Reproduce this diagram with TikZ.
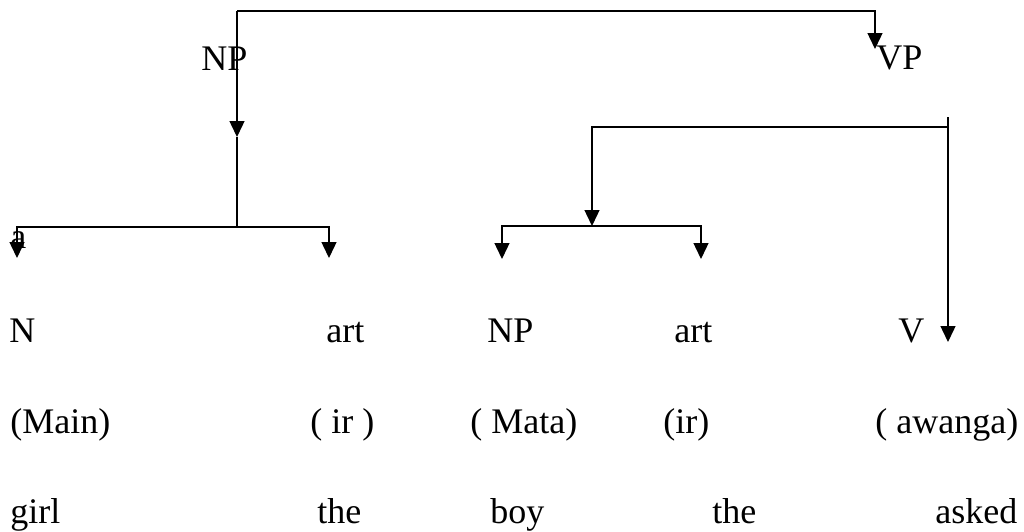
\documentclass[tikz,border=0pt]{standalone}
\usepackage{fontspec}
\setmainfont{Liberation Serif}
\usetikzlibrary{arrows.meta}

\begin{document}
\begin{tikzpicture}[x=0.5pt,y=-0.5pt,
    word/.style={anchor=base west,inner sep=0pt,font=\fontsize{18}{20}\selectfont},
    branch/.style={line width=0.7pt},
    down/.style={branch,-{Triangle[length=8pt,width=7.5pt]}}]

    \useasboundingbox (0,0) rectangle (1024,531);

    % Phrase labels
    \node[word] (np) at (201,70) {NP};
    \node[word] (vp) at (876,69) {VP};

    % Categories
    \node[word] (n)    at (9,342)   {N};
    \node[word] (art)  at (326,342) {art};
    \node[word] (obj)  at (487,342) {NP};
    \node[word] (art2) at (674,342) {art};
    \node[word] (v)    at (898,342) {V};
    \node[word] (a)    at (10,248)  {a};

    % Source words
    \node[word] (main)   at (10,433)  {(Main)};
    \node[word] (ir)     at (310,433) {( ir )};
    \node[word] (mata)   at (470,433) {( Mata)};
    \node[word] (ir2)    at (663,433) {(ir)};
    \node[word] (awanga) at (875,433) {( awanga)};

    % Glosses
    \node[word] (girl)  at (10,523)  {girl};
    \node[word] (the)   at (317,523) {the};
    \node[word] (boy)   at (490,523) {boy};
    \node[word] (the2)  at (712,523) {the};
    \node[word] (asked) at (935,523) {asked};

    % Branch points
    \coordinate (top)    at (237,11);
    \coordinate (nptip)  at (237,137);
    \coordinate (npjoin) at (237,227);
    \coordinate (ntip)   at (17,258);
    \coordinate (arttip) at (329,258);
    \coordinate (vptip)  at (875,49);
    \coordinate (vpstem) at (948,117);
    \coordinate (vpbar)  at (948,127);
    \coordinate (vtip)   at (948,342);
    \coordinate (objjoin) at (592,226);
    \coordinate (objtip)  at (502,259);
    \coordinate (art2tip) at (701,259);

    % S splits into NP and VP
    \draw[down] (top) -- (nptip);
    \draw[down] (top) -| (vptip);

    % NP branch
    \draw[branch] (nptip) -- (npjoin);
    \draw[down] (npjoin) -| (ntip);
    \draw[down] (npjoin) -| (arttip);

    % VP branch
    \draw[down] (vpstem) -- (vtip);
    \draw[down] (vpbar) -| (objjoin);
    \draw[down] (objjoin) -| (objtip);
    \draw[down] (objjoin) -| (art2tip);

\end{tikzpicture}
\end{document}
